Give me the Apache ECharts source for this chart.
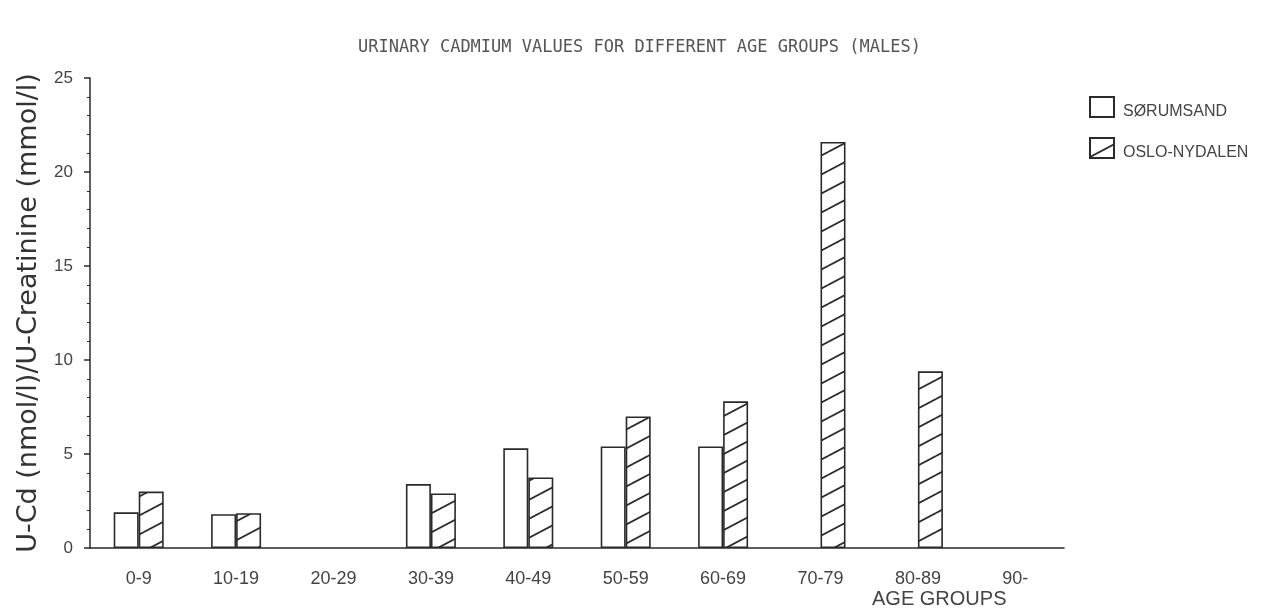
<!DOCTYPE html>
<html>
<head>
<meta charset="utf-8">
<script src="https://cdn.jsdelivr.net/npm/echarts@6/dist/echarts.min.js"></script>
<style>
  html, body { margin: 0; padding: 0; background: #fff; }
  #chart { width: 1279px; height: 613px; }
</style>
</head>
<body>
<div id="chart"></div>
<script>
// Age groups on the category axis
const ageGroups = ['0-9', '10-19', '20-29', '30-39', '40-49', '50-59', '60-69', '70-79', '80-89', '90-'];
// Urinary Cd / creatinine, males
const sorumsand = [1.9, 1.8, null, 3.4, 5.3, 5.4, 5.4, null, null, null];
const osloNydalen = [3.0, 1.85, null, 2.9, 3.75, 7.0, 7.8, 21.6, 9.4, null];
const yTicks = { min: 0, max: 25, step: 5 };

// Diagonal hatch tile (lines rising to the right)
function hatchTile() {
  const w = 36, h = 19;
  const c = document.createElement('canvas');
  c.width = w; c.height = h;
  const ctx = c.getContext('2d');
  ctx.fillStyle = '#fff';
  ctx.fillRect(0, 0, w, h);
  ctx.strokeStyle = '#2a2a2a';
  ctx.lineWidth = 1.8;
  for (let dx = -1; dx <= 1; dx++) {
    for (let dy = -1; dy <= 1; dy++) {
      ctx.beginPath();
      ctx.moveTo(dx * w, h + dy * h);
      ctx.lineTo(w + dx * w, dy * h);
      ctx.stroke();
    }
  }
  return c;
}

const ink = '#2a2a2a';
const textInk = '#444';

const chart = echarts.init(document.getElementById('chart'));
chart.setOption({
  backgroundColor: '#fff',
  animation: false,
  title: {
    text: 'URINARY CADMIUM VALUES FOR DIFFERENT AGE GROUPS (MALES)',
    left: 'center',
    top: 34,
    textStyle: {
      fontFamily: 'DejaVu Sans Mono',
      fontSize: 17,
      fontWeight: 'normal',
      color: '#555'
    }
  },
  legend: {
    orient: 'vertical',
    left: 1089,
    top: 96,
    padding: 0,
    icon: 'rect',
    itemWidth: 24,
    itemHeight: 20,
    itemGap: 17,
    formatter: '{t|{name}}',
    textStyle: {
      fontFamily: 'Liberation Sans',
      fontSize: 16,
      color: textInk,
      rich: {
        t: {
          fontFamily: 'Liberation Sans',
          fontSize: 16,
          color: textInk,
          padding: [10, 0, 0, 4]
        }
      }
    },
    data: ['SØRUMSAND', 'OSLO-NYDALEN']
  },
  grid: { left: 90, right: 215, top: 78, bottom: 65 },
  xAxis: {
    type: 'category',
    data: ageGroups,
    axisLine: { lineStyle: { color: ink, width: 1.5 } },
    axisTick: { alignWithLabel: true, length: 6, lineStyle: { color: ink, width: 1.5 } },
    axisLabel: {
      fontFamily: 'Liberation Sans',
      fontSize: 18,
      color: textInk,
      margin: 22
    }
  },
  yAxis: {
    type: 'value',
    min: yTicks.min,
    max: yTicks.max,
    interval: yTicks.step,
    name: 'U-Cd (nmol/l)/U-Creatinine (mmol/l)',
    nameLocation: 'middle',
    nameRotate: 90,
    nameGap: 48,
    nameTextStyle: {
      fontFamily: 'DejaVu Sans',
      fontSize: 27,
      color: '#333'
    },
    splitLine: { show: false },
    axisLine: { show: true, lineStyle: { color: ink, width: 1.5 } },
    axisTick: { show: true, length: 6, lineStyle: { color: ink, width: 1.5 } },
    minorTick: { show: true, splitNumber: 5, length: 3, lineStyle: { color: ink, width: 1 } },
    axisLabel: {
      fontFamily: 'Liberation Sans',
      fontSize: 17,
      color: textInk,
      margin: 17
    }
  },
  series: [
    {
      name: 'SØRUMSAND',
      type: 'bar',
      data: sorumsand,
      barWidth: 25,
      barGap: '0%',
      itemStyle: { color: '#fff', borderColor: ink, borderWidth: 1.6 }
    },
    {
      name: 'OSLO-NYDALEN',
      type: 'bar',
      data: osloNydalen,
      barWidth: 25,
      barGap: '0%',
      itemStyle: {
        color: { image: hatchTile(), repeat: 'repeat' },
        borderColor: ink,
        borderWidth: 1.6
      }
    }
  ],
  graphic: [
    {
      type: 'text',
      left: 872,
      top: 589,
      style: {
        text: 'AGE GROUPS',
        font: '20px "Liberation Sans"',
        fill: textInk
      }
    }
  ]
});
</script>
</body>
</html>
